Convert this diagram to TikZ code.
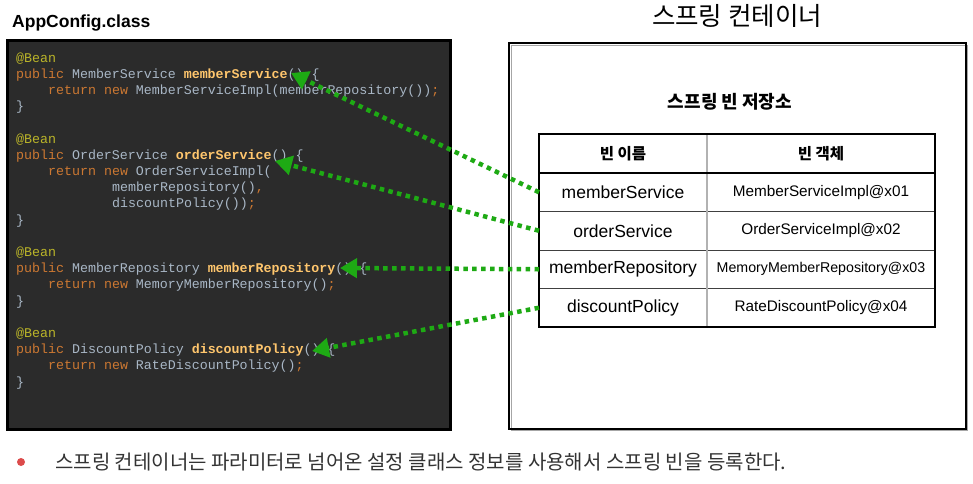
\documentclass[tikz,border=0pt]{standalone}
\usepackage{fontspec}
\usetikzlibrary{arrows.meta}
\setmainfont{Liberation Sans}
\newfontfamily\kofont{Noto Sans CJK KR}
\newfontfamily\codefont{Liberation Mono}
\definecolor{codebg}{HTML}{2B2B2B}
\definecolor{annc}{HTML}{BBB529}
\definecolor{kwc}{HTML}{CC7832}
\definecolor{plnc}{HTML}{A9B7C6}
\definecolor{mthc}{HTML}{FFC66D}
\definecolor{arrowgreen}{RGB}{30,170,20}
\definecolor{bulletred}{RGB}{220,75,75}
\definecolor{bodygray}{HTML}{333333}
\newcommand{\cAn}[1]{\textcolor{annc}{#1}}
\newcommand{\cKw}[1]{\textcolor{kwc}{#1}}
\newcommand{\cPl}[1]{\textcolor{plnc}{#1}}
\newcommand{\cMt}[1]{\textcolor{mthc}{\bfseries #1}}
\tikzset{
  codeline/.style={anchor=base west, inner sep=0pt, font=\codefont\fontsize{13.3}{14}\selectfont, text=plnc},
  cell/.style={minimum width=168pt, minimum height=38.5pt, inner sep=0pt, outer sep=0pt, font=\fontsize{17.5}{20}\selectfont},
  objcell/.style={minimum width=228pt, minimum height=38.5pt, inner sep=0pt, outer sep=0pt, font=\fontsize{15.3}{18}\selectfont},
  beanarrow/.style={draw=arrowgreen, line width=4.5pt, dash pattern=on 4.5pt off 4.4pt,
    -{Triangle[length=17pt,width=19pt,fill=arrowgreen]}, shorten <=0pt},
}
\begin{document}
\begin{tikzpicture}[x=1pt,y=-1pt]
\useasboundingbox (0,0) rectangle (973,483);

% titles
\node[anchor=base west, inner sep=0pt, font=\bfseries\fontsize{17.5}{20}\selectfont] (apptitle) at (12,27) {AppConfig.class};
\node[inner sep=0pt, font=\kofont\fontsize{25.5}{28}\selectfont] (ctitle) at (737,16) {스프링 컨테이너};

% code panel
\draw[line width=3pt, fill=codebg] (7,40) rectangle (450,429);
\node[codeline] (l0) at (16,62) {\cAn{@Bean}};
\node[codeline] (l1) at (16,78.2) {\cKw{public} MemberService \cMt{memberService}() \{};
\node[codeline] (l2) at (48,94.4) {\cKw{return new} MemberServiceImpl(memberRepository())\cKw{;}};
\node[codeline] (l3) at (16,110.6) {\}};
\node[codeline] (l5) at (16,143) {\cAn{@Bean}};
\node[codeline] (l6) at (16,159.2) {\cKw{public} OrderService \cMt{orderService}() \{};
\node[codeline] (l7) at (48,175.4) {\cKw{return new} OrderServiceImpl(};
\node[codeline] (l8) at (112,191.6) {memberRepository()\cKw{,}};
\node[codeline] (l9) at (112,207.8) {discountPolicy())\cKw{;}};
\node[codeline] (l10) at (16,224) {\}};
\node[codeline] (l12) at (16,256.4) {\cAn{@Bean}};
\node[codeline] (l13) at (16,272.6) {\cKw{public} MemberRepository \cMt{memberRepository}() \{};
\node[codeline] (l14) at (48,288.8) {\cKw{return new} MemoryMemberRepository()\cKw{;}};
\node[codeline] (l15) at (16,305) {\}};
\node[codeline] (l17) at (16,337.4) {\cAn{@Bean}};
\node[codeline] (l18) at (16,353.6) {\cKw{public} DiscountPolicy \cMt{discountPolicy}() \{};
\node[codeline] (l19) at (48,369.8) {\cKw{return new} RateDiscountPolicy()\cKw{;}};
\node[codeline] (l20) at (16,386) {\}};

% container
\draw[line width=1.2pt, black!35] (511.5,45.5) rectangle (967.5,430.5);
\draw[line width=2.5pt] (509,43) rectangle (966,429);
\node[inner sep=0pt, font=\kofont\bfseries\fontsize{18}{20}\selectfont] (store) at (730,102) {스프링 빈 저장소};

% table
\node[cell, font=\kofont\bfseries\fontsize{15.5}{18}\selectfont] (h1) at (623,153.5) {빈 이름};
\node[objcell, font=\kofont\bfseries\fontsize{15.5}{18}\selectfont] (h2) at (821,153.5) {빈 객체};
\node[cell] (n1) at (623,192.25) {memberService};
\node[cell] (n2) at (623,230.75) {orderService};
\node[cell] (n3) at (623,269.25) {memberRepository};
\node[cell] (n4) at (623,307.75) {discountPolicy};
\node[objcell] (o1) at (821,192.25) {MemberServiceImpl@x01};
\node[objcell] (o2) at (821,230.75) {OrderServiceImpl@x02};
\node[objcell, font=\fontsize{14.2}{16}\selectfont] (o3) at (821,269.25) {MemoryMemberRepository@x03};
\node[objcell] (o4) at (821,307.75) {RateDiscountPolicy@x04};
\draw[black!75, line width=0.9pt] (539,211.5) -- (935,211.5) (539,250) -- (935,250) (539,288.5) -- (935,288.5);
\draw[black!30, line width=1.3pt] (707,134) -- (707,327);
\draw[line width=1.8pt] (539,173) -- (935,173);
\draw[line width=1.3pt] (539,134) rectangle (935,327);

% bottom note
\fill[bulletred] (21,462) circle (4pt);
\node[anchor=west, inner sep=0pt, text=bodygray, font=\kofont\fontsize{20}{22}\selectfont] (note) at (55,462) {스프링 컨테이너는 파라미터로 넘어온 설정 클래스 정보를 사용해서 스프링 빈을 등록한다.};

% arrows
\coordinate (t1) at (291,73);
\coordinate (t2) at (275,161);
\coordinate (t3) at (340,268);
\coordinate (t4) at (312,351);
\draw[beanarrow] (n1.west) -- (t1);
\draw[beanarrow] (n2.west) -- (t2);
\draw[beanarrow] (n3.west) -- (t3);
\draw[beanarrow] (n4.west) -- (t4);
\end{tikzpicture}
\end{document}
